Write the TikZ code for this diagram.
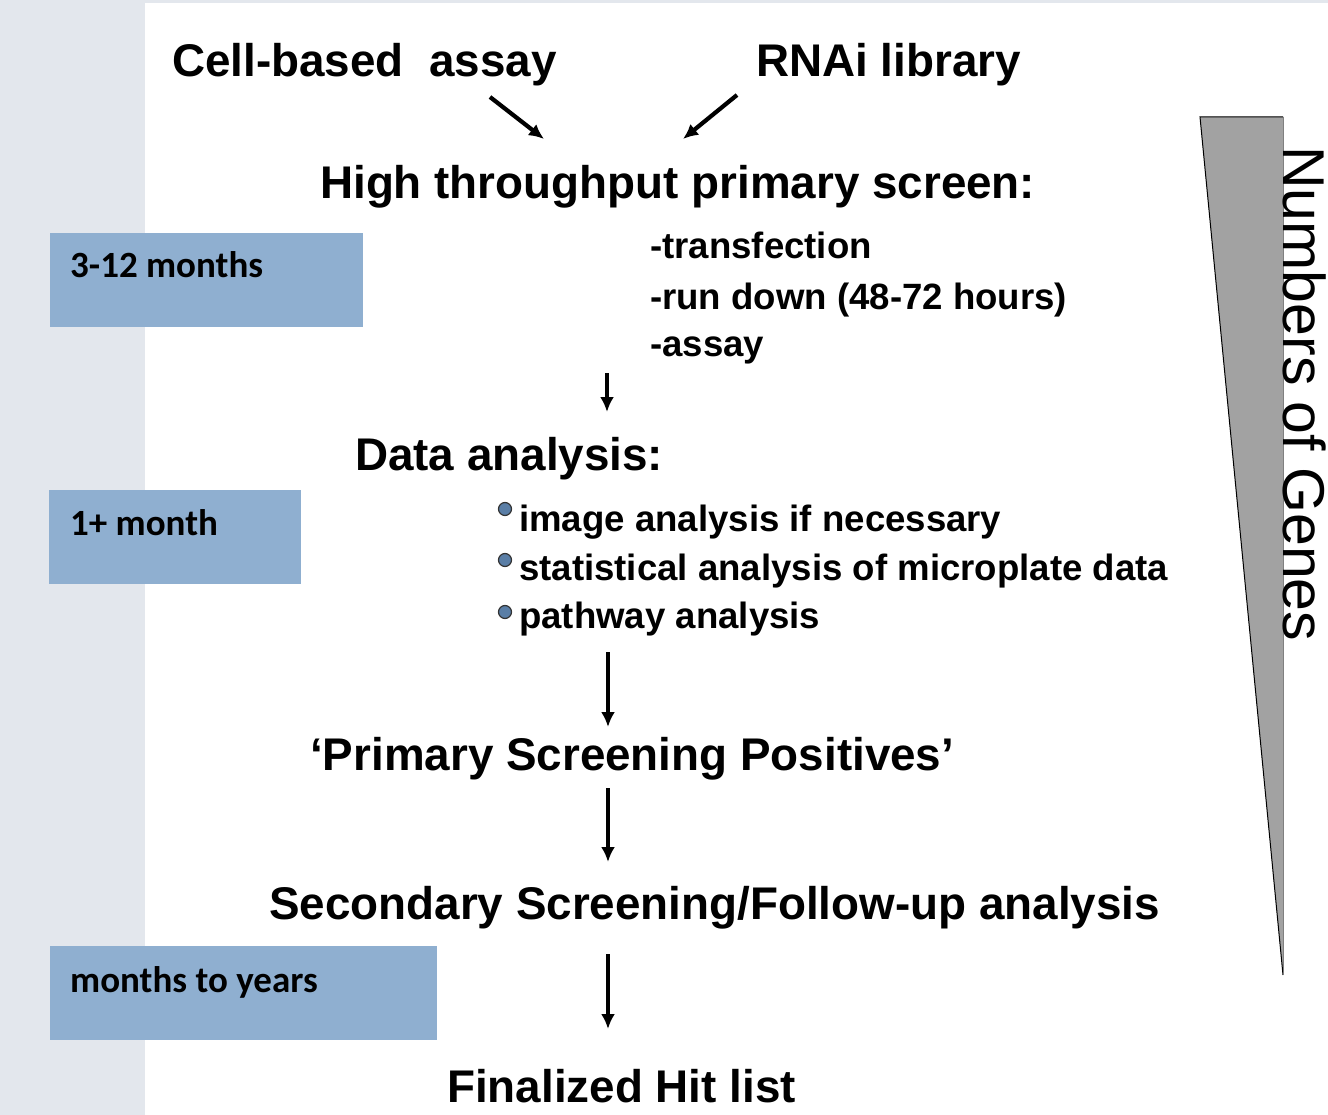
\documentclass[tikz,border=0pt]{standalone}
\usepackage{fontspec}
\setmainfont{Liberation Sans}
\newfontfamily\calibfont{Carlito}
\usetikzlibrary{arrows.meta}
\definecolor{panelgray}{HTML}{E3E7ED}
\definecolor{boxblue}{HTML}{8FAFD0}
\definecolor{trigray}{HTML}{A2A2A2}
\definecolor{bulletblue}{HTML}{5A7EA6}
\tikzset{
  bigtxt/.style={anchor=base west, inner sep=0pt, font=\fontsize{45.8}{50}\selectfont\bfseries},
  midtxt/.style={anchor=base west, inner sep=0pt, font=\fontsize{36.6}{40}\selectfont\bfseries},
  timetxt/.style={anchor=base west, inner sep=0pt, font=\fontsize{37}{40}\selectfont\calibfont\bfseries},
  flowarrow/.style={line width=4.2pt, -{Latex[length=15pt,width=14pt]}},
  bulletdot/.style={circle, draw=black!80, line width=1.2pt, fill=bulletblue, minimum size=13pt, inner sep=0pt}
}
\begin{document}
\begin{tikzpicture}[x=1pt,y=-1pt]
\useasboundingbox (0,0) rectangle (1328,1115);
\fill[white] (0,0) rectangle (1328,1115);
\fill[panelgray] (0,0) rectangle (145,1115);
\fill[panelgray] (145,0) rectangle (1328,3);

% time boxes
\fill[boxblue] (50,233) rectangle (363,327);
\fill[boxblue] (49,490) rectangle (301,584);
\fill[boxblue] (50,946) rectangle (437,1040);
\node[timetxt] (t1) at (70,278) {3-12 months};
\node[timetxt] (t2) at (70,535) {1+ month};
\node[timetxt] (t3) at (70,992) {months to years};

% top inputs
\node[bigtxt] (cell) at (172,77) {Cell-based\ \ assay};
\node[bigtxt] (rnai) at (756,77) {RNAi library};
\coordinate (a1s) at (490,97);
\coordinate (a1e) at (544,139);
\coordinate (a2s) at (737,95);
\coordinate (a2e) at (683,139);
\draw[flowarrow] (a1s) -- (a1e);
\draw[flowarrow] (a2s) -- (a2e);

\node[bigtxt] (hts) at (320,199) {High throughput primary screen:};
\node[midtxt] (s1) at (650,259) {-transfection};
\node[midtxt] (s2) at (650,310) {-run down (48-72 hours)};
\node[midtxt] (s3) at (650,356) {-assay};

\coordinate (b1s) at (607,373);
\coordinate (b1e) at (607,412);
\draw[flowarrow] (b1s) -- (b1e);

\node[bigtxt] (da) at (355,470) {Data analysis:};
\node[bulletdot] (d1) at (505,509) {};
\node[bulletdot] (d2) at (505,560) {};
\node[bulletdot] (d3) at (505,612) {};
\node[midtxt] (i1) at (519,531) {image analysis if necessary};
\node[midtxt] (i2) at (519,580) {statistical analysis of microplate data};
\node[midtxt] (i3) at (519,628) {pathway analysis};

\coordinate (c1s) at (608,652);
\coordinate (c1e) at (608,727);
\draw[flowarrow] (c1s) -- (c1e);

\node[bigtxt] (psp) at (310,770) {‘Primary Screening Positives’};

\coordinate (c2s) at (608,788);
\coordinate (c2e) at (608,862);
\draw[flowarrow] (c2s) -- (c2e);

\node[bigtxt] (sec) at (269,919) {Secondary Screening/Follow-up analysis};

\coordinate (c3s) at (608,954);
\coordinate (c3e) at (608,1029);
\draw[flowarrow] (c3s) -- (c3e);

\node[bigtxt] (fin) at (447,1102) {Finalized Hit list};

% triangle
\coordinate (tl) at (1200,117);
\coordinate (tr) at (1283,117);
\coordinate (tb) at (1283,975);
\fill[trigray] (tl) -- (tr) -- (tb) -- cycle;
\draw[black, line width=1pt] (tr) -- (tl) -- (tb);
\draw[gray, line width=1pt] (tr) -- (tb);
\node[rotate=-90, anchor=base west, inner sep=0pt, font=\fontsize{59}{60}\selectfont] (genes) at (1283,146) {Numbers of Genes};
\end{tikzpicture}
\end{document}
